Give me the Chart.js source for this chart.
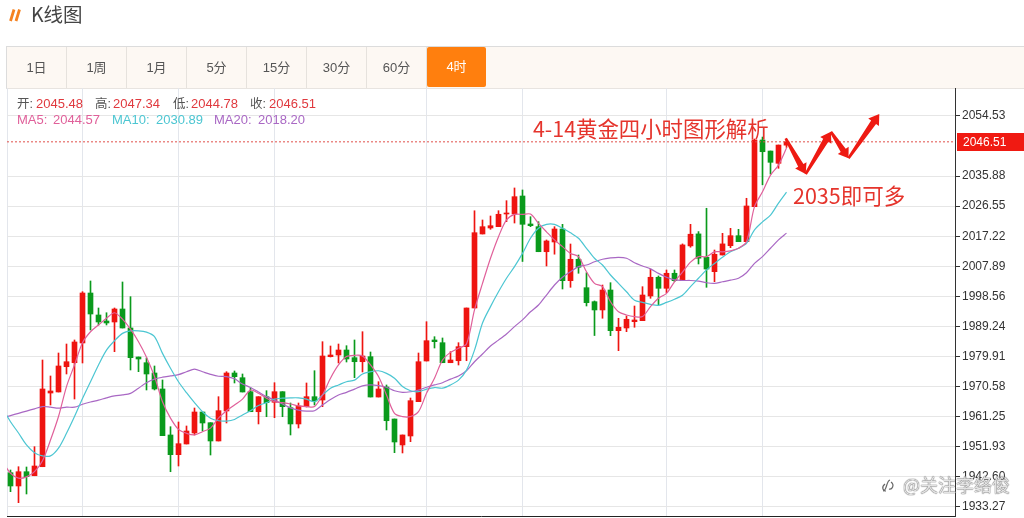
<!DOCTYPE html>
<html lang="zh">
<head>
<meta charset="utf-8">
<title>K线图</title>
<script src="https://cdn.jsdelivr.net/npm/chart.js@4/dist/chart.umd.min.js"></script>
<style>
html,body{margin:0;padding:0;background:#fff;overflow:hidden}
#stage{position:relative;width:1024px;height:518px;font-family:"Liberation Sans","Noto Sans CJK SC",sans-serif;overflow:hidden}
#stage span,#stage div.a{position:absolute;white-space:nowrap}
#bar{position:absolute;left:6px;top:46px;right:0;height:41px;background:#fdf8f3;border-top:1px solid #dcdcdc;border-bottom:1px solid #e8e4e0;border-left:1px solid #dcdcdc}
canvas{position:absolute;left:0;top:0}
.tab{position:absolute;top:47px;height:41px;line-height:41px;width:60px;text-align:center;font-size:13px;color:#555;border-right:1px solid #e6e2dd;box-sizing:border-box}
.tab.on{background:#ff7f0e;color:#fff;border:0;border-radius:2px;left:427px;width:59px;top:47px;height:40px;line-height:40px}
</style>
</head>
<body>
<div id="stage">
  <div id="bar"></div>
  <canvas id="c" width="1024" height="518"></canvas>
  <div id="over"></div>
</div>
<script>
// ---- data ----
const tabLabels = ['1日','1周','1月','5分','15分','30分','60分','4时'];
const ohlcLabels = ['开:','高:','低:','收:'];
const ohlcValues = ['2045.48','2047.34','2044.78','2046.51'];
const maLabels = ['MA5:','MA10:','MA20:'];
const maValues = ['2044.57','2030.89','2018.20'];
const yTicks = [2054.53,2035.88,2026.55,2017.22,2007.89,1998.56,1989.24,1979.91,1970.58,1961.25,1951.93,1942.60,1933.27];
const lastPrice = 2046.51;
const xGridIdx = [9,21,33,52,64,82,94];

const open = [1943.88,1939.76,1944.19,1942.95,1945.74,1968.6,1968.92,1976.76,1978.0,1984.12,1999.62,1992.8,1990.94,1990.63,1994.66,1988.77,1979.77,1978.0,1974.81,1969.85,1955.58,1949.47,1952.79,1956.2,1962.71,1959.39,1953.72,1963.02,1974.81,1973.35,1969.01,1962.8,1967.46,1965.72,1969.01,1964.05,1959.0,1964.36,1967.46,1966.43,1979.87,1980.39,1981.94,1979.56,1978.31,1979.87,1967.36,1970.47,1960.54,1952.48,1955.27,1965.91,1978.53,1985.05,1984.21,1978.0,1978.62,1982.97,1994.97,2017.93,2019.79,2020.19,2024.13,2024.13,2029.71,2021.03,2020.19,2012.43,2015.45,2019.48,2003.44,2010.08,2001.27,1996.93,1994.36,2000.55,1987.93,1988.77,1990.72,1991.03,1998.7,2004.5,2001.08,2005.74,2003.44,2014.23,2017.95,2010.69,2006.23,2011.41,2014.29,2017.4,2015.54,2026.4,2047.08,2043.66,2039.85,2045.48];
const close = [1939.76,1944.19,1942.64,1945.96,1969.85,1969.23,1976.98,1978.31,1984.43,1999.62,1993.11,1990.63,1990.32,1994.66,1988.77,1979.56,1979.15,1974.5,1969.85,1955.36,1949.47,1952.88,1956.82,1962.71,1959.3,1953.72,1963.12,1974.81,1973.66,1968.92,1962.8,1967.46,1965.6,1969.01,1964.36,1959.0,1964.57,1967.46,1966.12,1980.08,1980.39,1981.94,1979.15,1978.31,1980.08,1967.36,1969.85,1960.01,1953.41,1955.58,1966.22,1978.31,1984.83,1984.52,1978.0,1978.84,1982.97,1994.97,2018.33,2020.19,2020.5,2024.04,2024.44,2029.5,2020.93,2020.5,2012.43,2015.76,2019.48,2003.44,2010.08,2007.6,1996.62,1994.36,2000.55,1987.93,1988.99,1991.47,1991.25,1999.0,2004.5,2001.08,2005.74,2003.44,2014.54,2017.85,2010.41,2007.06,2011.63,2014.85,2017.4,2015.54,2026.61,2047.08,2043.45,2040.16,2045.52,2046.51];
const high = [1944.72,1945.74,1945.65,1951.95,1978.84,1973.88,1981.01,1983.8,1985.05,2000.03,2003.35,1994.97,1993.5,1994.97,2003.04,1998.48,1979.77,1979.46,1976.98,1972.64,1958.15,1959.61,1958.37,1963.95,1962.71,1959.39,1967.46,1975.21,1975.43,1974.5,1970.16,1967.46,1969.32,1971.8,1969.01,1965.5,1965.5,1971.71,1975.52,1984.52,1983.18,1983.8,1983.28,1985.05,1987.62,1981.32,1972.11,1971.09,1960.54,1955.58,1967.05,1981.01,1990.72,1986.07,1985.67,1981.42,1984.21,1994.97,2025.13,2022.27,2023.51,2025.15,2028.26,2032.2,2031.58,2023.29,2021.74,2016.07,2020.19,2020.93,2014.82,2011.41,2005.92,1997.15,2002.1,2002.82,1991.78,1992.49,1995.59,2001.58,2007.0,2004.9,2006.76,2006.76,2014.85,2020.93,2018.67,2025.9,2012.96,2018.14,2019.69,2019.38,2029.0,2047.39,2047.99,2043.66,2045.52,2047.34];
const low = [1937.99,1934.58,1937.28,1942.95,1945.74,1964.88,1968.92,1974.5,1966.74,1977.91,1988.15,1989.7,1989.7,1981.42,1988.77,1975.74,1975.21,1969.54,1969.54,1955.36,1944.19,1945.96,1952.79,1955.58,1956.82,1949.37,1953.72,1959.3,1971.71,1968.92,1962.8,1959.0,1961.25,1960.94,1961.25,1955.58,1957.75,1964.26,1964.88,1964.36,1979.77,1977.91,1978.22,1973.35,1975.12,1967.36,1967.36,1957.13,1950.09,1950.0,1953.5,1965.91,1978.53,1982.56,1978.0,1978.0,1977.29,1978.62,1994.97,2017.93,2019.38,2020.19,2021.74,2021.33,2009.4,2020.19,2012.43,2008.0,2011.66,2000.86,2001.39,2005.74,1995.59,1986.43,1991.79,1986.38,1981.73,1987.62,1988.99,1991.03,1997.98,1995.9,1999.72,2003.13,2003.44,2013.82,2008.62,2001.39,2003.13,2011.41,2013.68,2015.54,2015.54,2026.4,2033.18,2036.48,2038.3,2044.78];

// moving averages: the first value belongs to the bar just left of the visible window
const ma5 = [1947.3,1943.7,1942.2,1942.6,1944.2,1947.6,1954.0,1961.3,1970.6,1977.3,1984.2,1987.6,1989.7,1991.8,1993.5,1991.5,1988.4,1984.5,1979.7,1973.7,1965.9,1960.8,1957.3,1956.1,1955.6,1956.6,1957.7,1960.8,1963.1,1964.9,1966.7,1969.5,1968.5,1967.0,1965.9,1965.6,1965.2,1964.6,1964.4,1964.4,1968.0,1973.2,1977.3,1979.9,1980.3,1980.1,1977.3,1973.7,1968.0,1962.3,1961.3,1961.3,1962.8,1968.5,1973.2,1978.8,1981.2,1982.5,1983.8,1994.4,2002.6,2010.4,2017.1,2022.3,2024.0,2024.0,2024.1,2021.2,2018.6,2016.1,2014.0,2011.9,2010.9,2006.2,2002.6,2001.6,1996.9,1993.8,1992.8,1992.3,1992.3,1995.4,1998.0,1999.5,2003.1,2006.1,2009.2,2010.9,2010.9,2012.4,2012.4,2012.7,2013.5,2015.5,2026.4,2031.0,2036.2,2039.3,2044.57];
const ma10 = [1963.9,1959.7,1956.2,1952.5,1950.1,1949.1,1949.1,1951.5,1956.1,1961.3,1966.9,1972.1,1977.3,1981.9,1984.8,1987.1,1987.9,1987.9,1987.5,1986.1,1980.9,1976.3,1972.1,1968.7,1965.6,1962.8,1960.8,1960.0,1959.9,1960.4,1961.8,1963.1,1964.7,1965.6,1966.7,1967.0,1967.1,1967.1,1966.7,1965.9,1968.0,1970.1,1971.1,1972.1,1972.6,1974.5,1975.2,1975.5,1974.7,1973.2,1970.6,1969.3,1969.0,1969.8,1970.3,1970.1,1971.1,1972.6,1975.7,1981.9,1990.3,1995.4,2000.0,2004.2,2007.8,2011.9,2016.6,2019.7,2020.9,2020.9,2019.7,2018.3,2016.6,2013.5,2010.4,2008.3,2005.2,2002.6,2000.0,1997.4,1996.7,1996.1,1995.8,1996.7,1997.7,1998.9,2001.6,2004.2,2006.8,2008.8,2010.7,2012.4,2013.5,2015.0,2019.2,2021.7,2023.8,2027.5,2030.89];
const ma20 = [1960.9,1961.6,1962.3,1963.0,1963.7,1964.4,1964.2,1963.9,1964.2,1964.2,1965.1,1965.8,1966.4,1967.1,1967.7,1968.0,1968.5,1970.1,1971.8,1972.9,1973.5,1973.9,1974.3,1975.2,1976.0,1975.2,1974.4,1973.8,1973.7,1973.0,1971.4,1970.3,1968.9,1967.5,1966.4,1965.2,1964.0,1963.3,1963.0,1963.1,1964.9,1966.6,1968.0,1968.8,1969.8,1970.8,1971.1,1970.9,1970.4,1969.3,1968.8,1969.0,1969.5,1970.4,1971.1,1971.8,1972.9,1973.9,1975.5,1978.3,1980.7,1983.2,1985.0,1986.9,1989.2,1991.3,1993.8,1995.9,1999.0,2002.1,2004.5,2006.2,2007.8,2008.3,2009.3,2010.1,2010.5,2010.7,2010.4,2009.0,2008.0,2007.1,2005.7,2004.5,2003.7,2003.5,2003.5,2003.3,2002.8,2002.6,2003.1,2003.6,2004.2,2005.9,2008.8,2010.9,2013.5,2016.1,2018.20];

// hand-drawn projection zig-zag, in bar index / price units
const zigX = [96.9,99.4,102.55,104.75,108.6];
const zigP = [2047.6,2036.5,2049.65,2041.4,2055.15];

const annotation1 = '4-14黄金四小时图形解析';
const annotation2 = '2035即可多';
const watermark = '@关注李络俊';

// ---- styles ----
const UP = '#ee1410', DOWN = '#0a9a1c', C5 = '#e0609a', C10 = '#4cc6d2', C20 = '#a968c4';

// ---- header DOM ----
const stage = document.getElementById('stage');
const over = document.getElementById('over');
function put(txt, left, cy, size, color, extra){
  const s = document.createElement('span');
  s.textContent = txt;
  s.style.cssText = `left:${left}px;top:${cy-size}px;height:${size*2}px;line-height:${size*2}px;font-size:${size}px;color:${color};${extra||''}`;
  over.appendChild(s);
  return s;
}
const icon = document.createElementNS('http://www.w3.org/2000/svg','svg');
icon.setAttribute('width','14');icon.setAttribute('height','14');
icon.style.cssText='position:absolute;left:7px;top:8px';
icon.innerHTML='<path d="M3.5 13 L7 1.5 M9 13 L12.5 1.5" stroke="#f58220" stroke-width="2.8" fill="none"/>';
over.appendChild(icon);
put('K线图',31,13,19.5,'#444','font-family:"Noto Sans CJK SC",sans-serif');

tabLabels.forEach((t,i)=>{
  const d=document.createElement('div');
  d.className='tab'+(i===7?' on':'');
  if(i!==7){d.style.left=(7+i*60)+'px';}
  d.textContent=t;
  over.appendChild(d);
});
const ohlcLeft=[17,95,173,250], ohlcValLeft=[36,113,191,269];
ohlcLabels.forEach((t,i)=>{
  put(t,ohlcLeft[i],104,12.5,'#555');
  put(ohlcValues[i],ohlcValLeft[i],104,13,'#e0393e');
});
const maLeft=[17,112,214], maValLeft=[53,156,258], maCol=[C5,C10,C20];
maLabels.forEach((t,i)=>{
  put(t,maLeft[i],120,13,maCol[i]);
  put(maValues[i],maValLeft[i],120,13,maCol[i]);
});
const cjk='font-family:"Noto Sans CJK SC",sans-serif;';
put(annotation1,533,128,21.4,'#e5342c',cjk);
put(annotation2,793,194,21.5,'#e5342c',cjk);
put(watermark,903,484,18,'rgba(255,255,255,.85)',cjk+'text-shadow:0 0 1px #444,0 0 1px #666;');
const logo = document.createElementNS('http://www.w3.org/2000/svg','svg');
logo.setAttribute('width','16');logo.setAttribute('height','18');
logo.style.cssText='position:absolute;left:880px;top:476px';
logo.innerHTML='<path d="M3 15 C7 15 6 5 10 4 M5 8 C1 11 3 15 6 15 M11 6 C15 9 12 14 9 13" stroke="#666" stroke-width="1.2" fill="none"/>';
over.appendChild(logo);

// ---- chart ----
const idx = open.map((_,i)=>i);
const up = i => close[i] >= open[i];
const colors = idx.map(i => up(i)?UP:DOWN);
const X_MIN = -0.4375, X_MAX = 118.0625;

const zigPlugin = {
  id:'zig',
  afterDatasetsDraw(chart){
    const {ctx,scales:{x,y}} = chart;
    ctx.save();
    ctx.fillStyle = '#ee1a12';
    for(let k=0;k<zigX.length-1;k++){
      const x0=x.getPixelForValue(zigX[k]),y0=y.getPixelForValue(zigP[k]);
      const x1=x.getPixelForValue(zigX[k+1]),y1=y.getPixelForValue(zigP[k+1]);
      const dx=x1-x0,dy=y1-y0,l=Math.hypot(dx,dy),ux=dx/l,uy=dy/l,nx=-uy,ny=ux;
      const hl=Math.min(10,l*.3), bx=x1-ux*hl, by=y1-uy*hl;
      ctx.beginPath();
      ctx.moveTo(x0+nx*1.3,y0+ny*1.3);
      ctx.lineTo(bx+nx*3,by+ny*3);
      ctx.lineTo(bx+nx*6.5,by+ny*6.5);
      ctx.lineTo(x1,y1);
      ctx.lineTo(bx-nx*6.5,by-ny*6.5);
      ctx.lineTo(bx-nx*3,by-ny*3);
      ctx.lineTo(x0-nx*1.3,y0-ny*1.3);
      ctx.closePath();
      ctx.fill();
    }
    ctx.restore();
  },
  afterDraw(chart){
    const {ctx,scales:{y}} = chart;
    const py = Math.round(y.getPixelForValue(lastPrice));
    ctx.save();
    ctx.fillStyle = '#f01a12';
    ctx.fillRect(957,py-9,67,18);
    ctx.fillStyle = '#fff';
    ctx.font = '12px "Liberation Sans"';
    ctx.textBaseline = 'middle';
    ctx.fillText(lastPrice.toFixed(2),963,py+1);
    ctx.restore();
  }
};

new Chart(document.getElementById('c'),{
  data:{datasets:[
    {type:'line',label:'MA5',data:ma5.map((v,i)=>({x:i-1,y:v})),borderColor:C5,borderWidth:1.2,pointRadius:0,tension:.3,order:1},
    {type:'line',label:'MA10',data:ma10.map((v,i)=>({x:i-1,y:v})),borderColor:C10,borderWidth:1.2,pointRadius:0,tension:.3,order:1},
    {type:'line',label:'MA20',data:ma20.map((v,i)=>({x:i-1,y:v})),borderColor:C20,borderWidth:1.2,pointRadius:0,tension:.3,order:1},
    {type:'line',label:'last',data:[{x:X_MIN,y:lastPrice},{x:X_MAX,y:lastPrice}],borderColor:'#e0504a',borderWidth:1,borderDash:[2,2],pointRadius:0,tension:0,order:2},
    {type:'bar',label:'body',data:idx.map(i=>({x:i,y:[open[i],close[i]]})),backgroundColor:colors,borderWidth:0,barThickness:5,grouped:false,order:3},
    {type:'bar',label:'wick',data:idx.map(i=>({x:i,y:[low[i],high[i]]})),backgroundColor:colors,borderWidth:0,barThickness:1,grouped:false,order:4}
  ]},
  plugins:[zigPlugin],
  options:{
    responsive:false,animation:false,
    layout:{padding:{left:7,top:88,right:0,bottom:1}},
    plugins:{legend:{display:false},tooltip:{enabled:false}},
    scales:{
      x:{type:'linear',min:X_MIN,max:X_MAX,offset:false,
        afterBuildTicks(s){s.ticks=[X_MIN].concat(xGridIdx).map(v=>({value:v}));},
        afterFit(s){s.height=1;s.paddingLeft=0;s.paddingRight=0;},
        ticks:{display:false,autoSkip:false},
        grid:{color:'#e3e6ec',lineWidth:1,drawTicks:false,offset:false},
        border:{display:true,color:'#222',width:1}},
      y:{type:'linear',position:'right',min:1930.45,max:2063.21,
        afterBuildTicks(s){s.ticks=yTicks.map(v=>({value:v}));},
        afterFit(s){s.width=69;s.paddingTop=0;s.paddingBottom=0;},
        ticks:{autoSkip:false,color:'#333',padding:2,font:{family:'"Liberation Sans"',size:12},
          callback:v=>Number(v).toFixed(2)},
        grid:{color:'#e6e6e6',lineWidth:1,tickColor:'#333',tickLength:5},
        border:{display:true,color:'#333',width:1}}
    }
  }
});
</script>
</body>
</html>
